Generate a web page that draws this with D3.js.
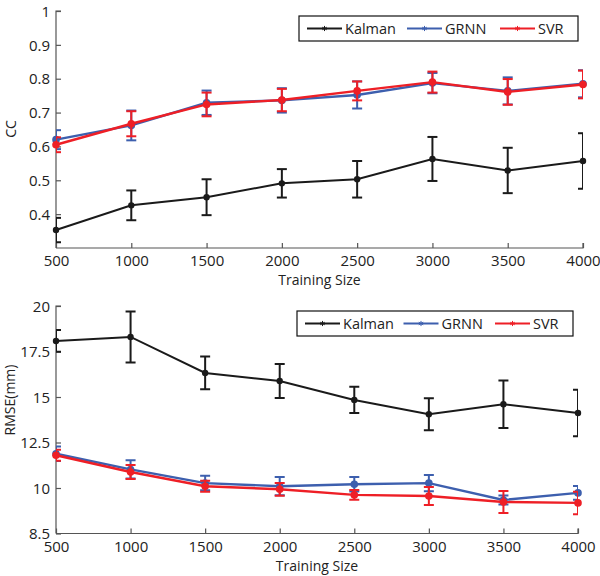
<!DOCTYPE html>
<html>
<head>
<meta charset="utf-8">
<script src="https://cdn.jsdelivr.net/npm/d3@7"></script>
<style>
  body { margin: 0; background: #fff; }
  svg text { font-family: "Open Sans", sans-serif; fill: #222; }
</style>
</head>
<body>
<svg id="chart" width="600" height="576"></svg>
<script>
// the data
var sizes = [500, 1000, 1500, 2000, 2500, 3000, 3500, 4000];
var seriesNames = ['Kalman', 'GRNN', 'SVR'];

// CC panel
var ccKalman = [0.353, 0.426, 0.450, 0.491, 0.503, 0.563, 0.529, 0.557];
var ccKalmanErr = [0.036, 0.044, 0.053, 0.042, 0.054, 0.065, 0.067, 0.082];
var ccGRNN = [0.620, 0.662, 0.729, 0.736, 0.752, 0.787, 0.764, 0.785];
var ccGRNNErr = [0.028, 0.044, 0.036, 0.036, 0.040, 0.030, 0.040, 0.040];
var ccSVR = [0.605, 0.667, 0.724, 0.737, 0.764, 0.790, 0.761, 0.783];
var ccSVRErr = [0.022, 0.037, 0.035, 0.033, 0.028, 0.031, 0.038, 0.041];
var ccTicks = [0.4, 0.5, 0.6, 0.7, 0.8, 0.9, 1];
var ccTickLabels = ['0.4', '0.5', '0.6', '0.7', '0.8', '0.9', '1'];

// RMSE panel
var rmKalman = [18.08, 18.30, 16.32, 15.88, 14.84, 14.05, 14.60, 14.12];
var rmKalmanErr = [0.60, 1.40, 0.90, 0.93, 0.72, 0.88, 1.30, 1.28];
var rmGRNN = [11.88, 11.02, 10.27, 10.10, 10.21, 10.27, 9.34, 9.73];
var rmGRNNErr = [0.40, 0.50, 0.40, 0.50, 0.40, 0.45, 0.25, 0.38];
var rmSVR = [11.80, 10.88, 10.10, 9.93, 9.62, 9.56, 9.23, 9.18];
var rmSVRErr = [0.30, 0.38, 0.30, 0.35, 0.27, 0.50, 0.60, 0.62];
var rmTicks = [7.5, 10, 12.5, 15, 17.5, 20];
var rmTickLabels = ['8.5', '10', '12.5', '15', '17.5', '20'];

var xTicks = [500, 1000, 1500, 2000, 2500, 3000, 3500, 4000];
var colors = {Kalman: '#1a1a1a', GRNN: '#3d5fae', SVR: '#ee1f26'};

var svg = d3.select('#chart');

function panel(cfg){
    var g = svg.append('g');
    var x = d3.scaleLinear().domain([500, 4000]).range([cfg.left, cfg.right]);
    var y = d3.scaleLinear().domain(cfg.yDomain).range([cfg.bottom, cfg.top]);

    // clip for error bars
    var clipId = 'clip' + cfg.id;
    g.append('clipPath').attr('id', clipId).append('rect')
        .attr('x', cfg.left).attr('y', cfg.top - 20)
        .attr('width', cfg.right - cfg.left).attr('height', cfg.bottom - cfg.top + 20);

    // axes, ticks inside
    var yAxis = d3.axisRight(y).tickValues(cfg.yTicks).tickSize(5)
        .tickFormat((d, i) => cfg.yTickLabels[i]);
    var ya = g.append('g').attr('transform', 'translate(' + cfg.left + ',0)').call(yAxis);
    ya.select('.domain').attr('d', 'M' + 5 + ',' + y(cfg.yTicks[cfg.yTicks.length - 1]) + 'H0V' + cfg.bottom);
    ya.selectAll('text').attr('x', -6).attr('text-anchor', 'end').attr('dy', '0.35em')
        .style('font-size', '15px');

    var xAxis = d3.axisTop(x).tickValues(xTicks).tickSize(5).tickFormat(d3.format('d'));
    var xa = g.append('g').attr('transform', 'translate(0,' + cfg.bottom + ')').call(xAxis);
    xa.select('.domain').attr('d', 'M' + cfg.left + ',0H' + cfg.right + 'V-5');
    xa.selectAll('text').attr('y', 13).attr('dy', '0.35em').style('font-size', '15px');
    g.selectAll('.domain, .tick line').attr('stroke', '#555').attr('stroke-width', 1.2);
    g.selectAll('.tick text').attr('fill', '#222');

    g.append('text').attr('x', (cfg.left + cfg.right) / 2).attr('y', cfg.bottom + 37)
        .attr('text-anchor', 'middle').style('font-size', '14px').text('Training Size');
    g.append('text')
        .attr('transform', 'translate(' + cfg.ylabX + ',' + cfg.ylabY + ') rotate(-90)')
        .attr('text-anchor', 'middle').style('font-size', '14px').text(cfg.ylabel);

    var line = d3.line().x((d, i) => x(sizes[i])).y(d => y(d));

    cfg.series.forEach(function(s){
        var c = colors[s.name];
        var sg = g.append('g');
        sg.append('path').datum(s.values).attr('d', line)
            .attr('fill', 'none').attr('stroke', c)
            .attr('stroke-width', s.name == 'Kalman' ? 2 : 2.4);
        var eb = sg.append('g').attr('clip-path', 'url(#' + clipId + ')');
        eb.selectAll('line.v').data(s.values).enter().append('line')
            .attr('x1', (d, i) => x(sizes[i])).attr('x2', (d, i) => x(sizes[i]))
            .attr('y1', (d, i) => y(d - s.err[i])).attr('y2', (d, i) => y(d + s.err[i]))
            .attr('stroke', c).attr('stroke-width', 2);
        [-1, 1].forEach(function(sign){
            eb.selectAll('line.c' + sign).data(s.values).enter().append('line')
                .attr('x1', (d, i) => x(sizes[i]) - 5).attr('x2', (d, i) => x(sizes[i]) + 5)
                .attr('y1', (d, i) => y(d + sign * s.err[i])).attr('y2', (d, i) => y(d + sign * s.err[i]))
                .attr('stroke', c).attr('stroke-width', 2);
        });
        sg.selectAll('circle').data(s.values).enter().append('circle')
            .attr('cx', (d, i) => x(sizes[i])).attr('cy', d => y(d))
            .attr('r', s.name == 'Kalman' ? 3.2 : 3.8).attr('fill', c);
    });

    // legend
    var lg = g.append('g');
    lg.append('rect').attr('x', cfg.legX).attr('y', cfg.legY)
        .attr('width', cfg.legW).attr('height', 25)
        .attr('fill', '#fff').attr('stroke', '#111').attr('stroke-width', 1.2);
    var offs = [8, 108, 201];
    seriesNames.forEach(function(n, i){
        var lx = cfg.legX + offs[i] + cfg.legShift * i;
        var ly = cfg.legY + 12.5;
        lg.append('line').attr('x1', lx).attr('x2', lx + 35).attr('y1', ly).attr('y2', ly)
            .attr('stroke', colors[n]).attr('stroke-width', 2);
        lg.append('path').attr('d', d3.symbol(d3.symbolAsterisk, 18)())
            .attr('transform', 'translate(' + (lx + 17.5) + ',' + ly + ')')
            .attr('stroke', colors[n]).attr('stroke-width', 1).attr('fill', 'none');
        lg.append('text').attr('x', lx + 38).attr('y', ly).attr('dy', '0.36em')
            .style('font-size', '14.5px').text(n);
    });
}

panel({
    id: 'cc', left: 56, right: 583, top: 11, bottom: 248,
    yDomain: [0.3, 1], yTicks: ccTicks, yTickLabels: ccTickLabels,
    ylabel: 'CC', ylabX: 16, ylabY: 129,
    legX: 299, legY: 16, legW: 279, legShift: 0,
    series: [
        {name: 'Kalman', values: ccKalman, err: ccKalmanErr},
        {name: 'GRNN', values: ccGRNN, err: ccGRNNErr},
        {name: 'SVR', values: ccSVR, err: ccSVRErr}
    ]
});

panel({
    id: 'rm', left: 56, right: 578, top: 306, bottom: 533.5,
    yDomain: [7.5, 20], yTicks: rmTicks, yTickLabels: rmTickLabels,
    ylabel: 'RMSE(mm)', ylabX: 15, ylabY: 400,
    legX: 297, legY: 311, legW: 276, legShift: -1.5,
    series: [
        {name: 'Kalman', values: rmKalman, err: rmKalmanErr},
        {name: 'GRNN', values: rmGRNN, err: rmGRNNErr},
        {name: 'SVR', values: rmSVR, err: rmSVRErr}
    ]
});
</script>
</body>
</html>
